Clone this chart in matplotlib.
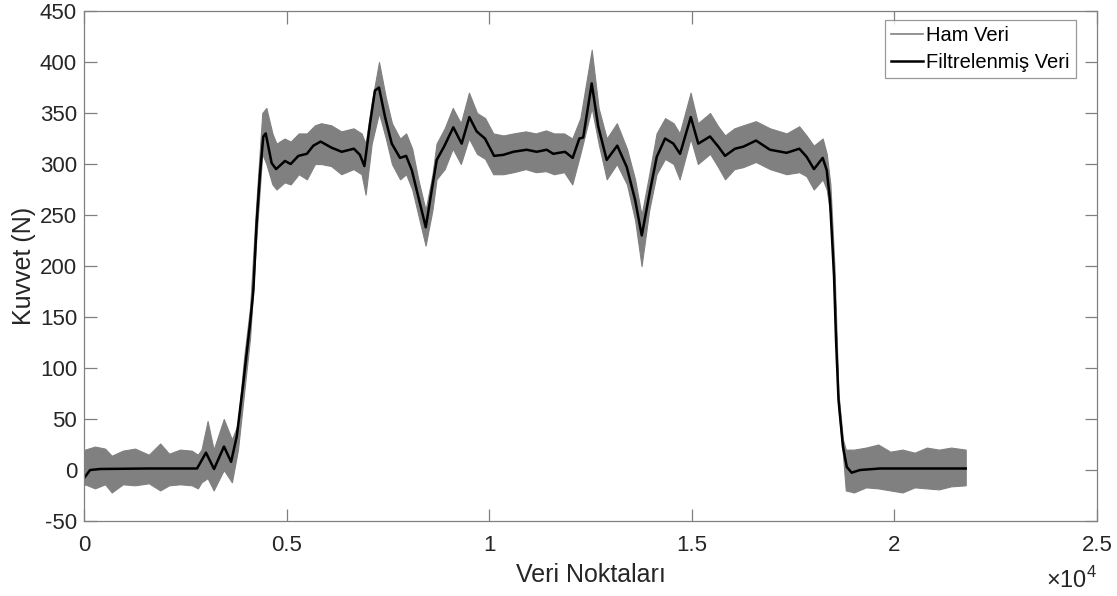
import matplotlib
matplotlib.use("Agg")
import matplotlib.pyplot as plt
from matplotlib.ticker import FuncFormatter

plt.rcParams['font.family'] = ['Liberation Sans', 'DejaVu Sans']
plt.rcParams['mathtext.fontset'] = 'custom'
plt.rcParams['mathtext.rm'] = 'Liberation Sans'
plt.rcParams['axes.unicode_minus'] = False

# Ham veri: gurultu bandinin ust/alt siniri (N)
ham_x = [0, 25, 270, 520, 685, 960, 1260, 1600, 1880, 2100, 2370, 2660, 2810,
         2900, 3050, 3200,
         3450, 3650, 3800, 3950, 4100, 4250, 4400, 4500, 4650, 4750, 4950, 5100,
         5300, 5500, 5700, 5850, 6100, 6350, 6650, 6850, 6950, 7100, 7280, 7450,
         7600, 7800, 7950, 8100, 8250, 8430, 8600, 8700, 8900, 9100, 9300, 9500,
         9700, 9900, 10100, 10350, 10600, 10900, 11150, 11400, 11600, 11850, 12050,
         12250, 12530, 12700, 12900, 13150, 13400, 13600, 13760, 13950, 14130,
         14340, 14550, 14700, 14970, 15150, 15450, 15650, 15820, 16050, 16270,
         16580, 16930, 17340, 17650, 17830, 18010, 18230, 18330, 18420, 18520,
         18620, 18730, 18800, 19000, 19300, 19600, 19900, 20200, 20500, 20800,
         21100, 21400, 21760]
ham_ust = [15, 20, 23, 21, 14, 19, 21, 15, 26, 16, 20, 19, 15,
           20, 48, 20,
           50, 30, 45, 110, 160, 260, 350, 355, 330, 320, 325, 322,
           330, 330, 338, 340, 338, 332, 335, 330, 320, 360, 400, 365,
           340, 325, 330, 315, 285, 255, 290, 320, 335, 355, 340, 370,
           350, 345, 330, 328, 330, 332, 330, 333, 330, 330, 325,
           345, 412, 355, 325, 340, 315, 285, 250, 290, 330,
           345, 340, 330, 370, 340, 350, 337, 328, 335, 338,
           342, 335, 330, 337, 328, 318, 325, 310, 280, 200,
           75, 30, 20, 20, 22, 25, 18, 20, 17, 22,
           20, 22, 20]
ham_alt = [-15, -14, -18, -14, -22, -14, -15, -13, -20, -15, -14, -15, -18,
           -12, -8, -20,
           0, -12, 20, 75, 130, 225, 310, 300, 280, 275, 282, 280,
           290, 285, 300, 300, 298, 290, 295, 290, 270, 320, 350, 325,
           300, 285, 290, 275, 250, 220, 255, 285, 295, 315, 300, 325,
           310, 305, 290, 290, 292, 295, 292, 293, 290, 292, 280,
           310, 355, 320, 285, 300, 280, 245, 200, 255, 290,
           305, 300, 285, 325, 300, 310, 297, 285, 295, 297,
           302, 295, 290, 292, 288, 275, 285, 275, 250, 180,
           60, 15, -20, -22, -17, -18, -20, -22, -17, -18,
           -19, -16, -15]

# Filtrelenmis veri (N)
filt_x = [0, 150, 400, 1600, 2790, 3010, 3210, 3455, 3630, 3770, 3930, 4100,
          4180, 4260, 4345, 4425, 4485, 4630, 4740, 4960, 5100, 5290, 5500,
          5660, 5840, 6110, 6360, 6660, 6810, 6920, 7060, 7180, 7280, 7430,
          7595, 7800, 7950, 8090, 8250, 8435, 8580, 8705, 8885, 9115, 9320,
          9510, 9690, 9895, 10120, 10350, 10595, 10925, 11170, 11420, 11580,
          11870, 12060, 12225, 12320, 12530, 12690, 12900, 13160, 13395, 13600,
          13765, 13970, 14135, 14340, 14545, 14710, 14975, 15160, 15450, 15655,
          15820, 16065, 16270, 16585, 16930, 17340, 17655, 17835, 18015, 18230,
          18330, 18410, 18460, 18510, 18560, 18620, 18730, 18825, 18945, 19150,
          19645, 21760]
filt_y = [-8, 0, 1, 1.5, 1.5, 17, 1, 23, 8, 33, 85, 144,
          176, 242, 291, 327, 330, 301, 295, 303, 300, 308, 310,
          318, 322, 316, 312, 315, 309, 298, 340, 372, 375, 346,
          320, 306, 308, 294, 268, 238, 274, 304, 317, 336, 320,
          346, 332, 325, 308, 309, 312, 314, 312, 314, 310,
          312, 306, 325, 326, 379, 337, 304, 318, 297, 265,
          230, 274, 307, 325, 320, 310, 346, 320, 327, 317,
          308, 315, 317, 323, 314, 311, 315, 307, 295, 306,
          294, 265, 228, 190, 127, 69, 23, 3, -2.6, 0,
          1.5, 1.5]

x_ticks = [0, 5000, 10000, 15000, 20000, 25000]
y_ticks = [-50, 0, 50, 100, 150, 200, 250, 300, 350, 400, 450]

fig = plt.figure(figsize=(11.17, 5.96), dpi=100)
ax = fig.add_axes([0.0752, 0.1258, 0.9069, 0.8557])

ax.fill_between(ham_x, ham_alt, ham_ust, color='#808080', linewidth=0.8,
                edgecolor='#808080')
ax.plot([], [], color='#808080', linewidth=1.2, label='Ham Veri')
ax.plot(filt_x, filt_y, color='black', linewidth=1.8, label='Filtrelenmiş Veri')

ax.set_xlim(0, 25000)
ax.set_ylim(-50, 450)
ax.set_xticks(x_ticks)
ax.set_yticks(y_ticks)
ax.xaxis.set_major_formatter(FuncFormatter(lambda v, p: '%g' % (v / 1e4)))

for s in ax.spines.values():
    s.set_color('#808080')
    s.set_linewidth(0.9)
ax.tick_params(direction='in', length=9, width=0.9, color='#808080',
               labelsize=16, labelcolor='#262626', top=True, right=True)
ax.tick_params(axis='x', pad=10)
ax.tick_params(axis='y', pad=5)

ax.set_xlabel('Veri Noktaları', fontsize=18, color='#262626', labelpad=5)
ax.set_ylabel('Kuvvet (N)', fontsize=18, color='#262626', labelpad=3)
ax.text(1.0, -0.115, r'$\times 10^4$', transform=ax.transAxes, ha='right',
        va='center', fontsize=17, color='#262626')

leg = ax.legend(loc='upper right', bbox_to_anchor=(0.979, 0.982), fontsize=14.5,
                frameon=True, fancybox=False, borderpad=0.3, labelspacing=0.38,
                handlelength=1.6, handletextpad=0.15, borderaxespad=0)
leg.get_frame().set_edgecolor('#808080')
leg.get_frame().set_linewidth(0.9)

fig.savefig('out.png', dpi=100)
